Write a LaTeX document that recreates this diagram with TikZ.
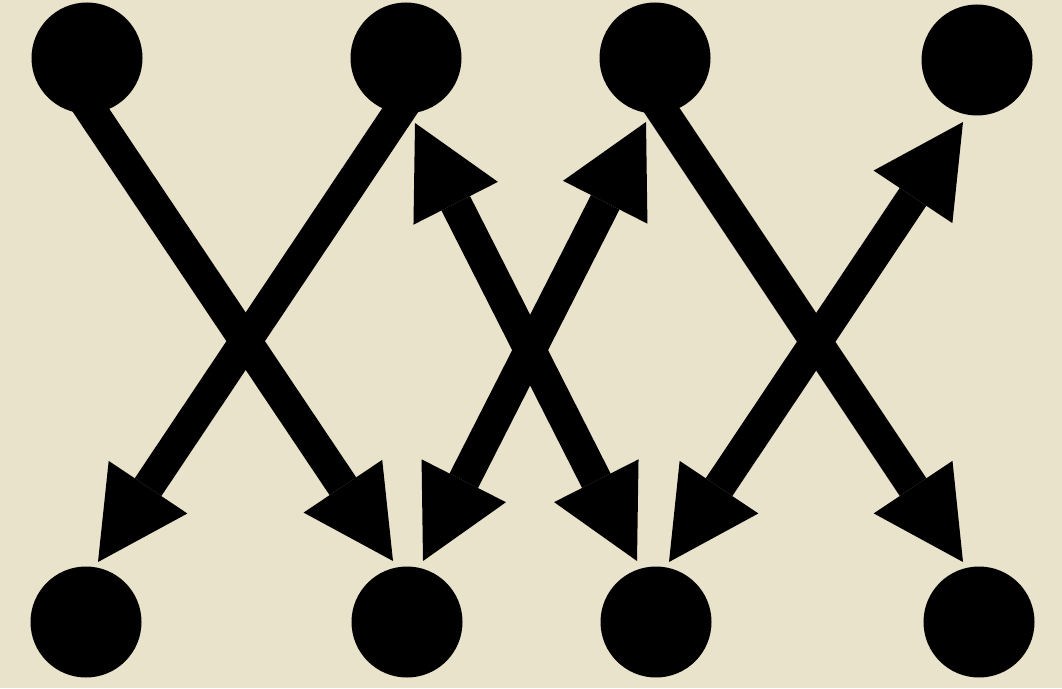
\documentclass[tikz,border=0pt]{standalone}
\usetikzlibrary{arrows.meta}
\definecolor{paper}{HTML}{E9E3CB}
\begin{document}
\begin{tikzpicture}[x=0.75pt,y=-0.75pt,
  dot/.style={circle,fill=black,draw=none,minimum size=83.25pt,inner sep=0pt},
  tipT/.tip={Triangle[length=67.5pt,width=71pt,line width=0pt]},
  arr/.style={line width=24pt,line cap=butt,-tipT},
  darr/.style={line width=24pt,line cap=butt,tipT-tipT}]
\fill[paper] (0,0) rectangle (1062,688);
\useasboundingbox (0,0) rectangle (1062,688);
% arrow end points
\coordinate (a0) at (74,85);   \coordinate (a1) at (393,561);
\coordinate (b0) at (417,85);  \coordinate (b1) at (98,562);
\coordinate (c0) at (415,123); \coordinate (c1) at (637,561);
\coordinate (d0) at (423,561); \coordinate (d1) at (646,122);
\coordinate (e0) at (645,85);  \coordinate (e1) at (963,562);
\coordinate (f0) at (669,562); \coordinate (f1) at (963,122);
% connectors
\draw[arr] (a0) -- (a1);
\draw[arr] (b0) -- (b1);
\draw[darr] (c0) -- (c1);
\draw[darr] (d0) -- (d1);
\draw[arr] (e0) -- (e1);
\draw[darr] (f0) -- (f1);
% dots
\node[dot] (t1) at (87,58) {};
\node[dot] (t2) at (406,58) {};
\node[dot] (t3) at (655,58) {};
\node[dot] (t4) at (977,60) {};
\node[dot] (u1) at (86,622) {};
\node[dot] (u2) at (407,622) {};
\node[dot] (u3) at (656,622) {};
\node[dot] (u4) at (979,622) {};
\end{tikzpicture}
\end{document}
